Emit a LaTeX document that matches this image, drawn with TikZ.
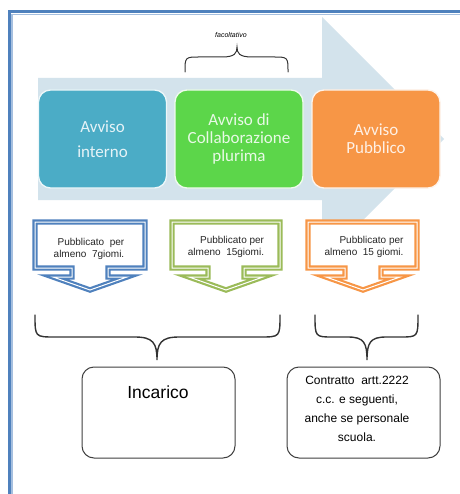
\documentclass[tikz,border=0pt]{standalone}
\usepackage{fontspec}
\setmainfont{Liberation Sans}
\newfontfamily\calib{Carlito}
\definecolor{arrowfill}{HTML}{D3E3EC}
\definecolor{bluebox}{HTML}{4BACC6}
\definecolor{greenbox}{HTML}{5CD64A}
\definecolor{orangebox}{HTML}{F79646}
\definecolor{cblue}{HTML}{4F81BD}
\definecolor{cgreen}{HTML}{9BBB59}
\definecolor{corange}{HTML}{F79646}
\definecolor{framedark}{HTML}{4F81BD}
\definecolor{framelight}{HTML}{A5BFDF}
\definecolor{brace}{HTML}{333333}
\tikzset{
  stagebox/.style={rounded corners=12pt, draw=white!90!#1, line width=1.3pt, fill=#1,
    minimum width=128pt, minimum height=98pt, inner sep=0pt, align=center,
    text=white!86!#1, font=\calib\fontsize{17}{18}\selectfont},
  callout/.style={fill=white, draw=#1, line width=2.2pt, double=white, double distance=1pt, line join=miter},
  calltext/.style={align=right, inner sep=0pt, text=black!85, font=\fontsize{10}{12}\selectfont},
  bracepath/.style={draw=brace, line width=1.4pt, line cap=round},
  resultbox/.style={rounded corners=12pt, draw=black!75, line width=1pt, fill=white,
    minimum width=153pt, minimum height=91pt, inner sep=0pt}
}
\begin{document}
\begin{tikzpicture}[x=1pt,y=-1pt]
\useasboundingbox (0,0) rectangle (459,494);
\fill[white] (0,0) rectangle (459,494);
% frame (cropped at right and bottom)
\draw[framedark, line width=3pt] (9,11.5) rectangle (476,512);
\draw[framelight, line width=1.5pt] (12,14.5) rectangle (473,509);
% big process arrow
\fill[arrowfill] (38,78) -- (322,78) -- (322,17) -- (444,139) -- (322,261) -- (322,200) -- (38,200) -- cycle;
% stage boxes
\node[stagebox=bluebox, font=\calib\fontsize{17}{25}\selectfont] (interno) at (102.5,139) {Avviso\\interno};
\node[stagebox=greenbox] (collab) at (239,139) {Avviso di\\Collaborazione\\plurima};
\node[stagebox=orangebox] (pubblico) at (376,139) {Avviso\\Pubblico};
% top brace
\node[font=\itshape\fontsize{7}{8}\selectfont, inner sep=0pt] (facolt) at (231,35) {facoltativo};
\coordinate (tb) at (237,47);
\draw[bracepath, line width=1pt] (185,72) .. controls (185,57) .. (200,57) -- (222,57) .. controls (235,57) and (237,53) .. (tb)
  .. controls (237,53) and (239,57) .. (252,57) -- (273,57) .. controls (288,57) .. (288,72);
% callouts
\draw[callout=cblue] (35,222) -- (145,222) -- (145,268) -- (108,268) -- (108,277) -- (127,277) -- (90,290) -- (53,277) -- (72,277) -- (72,268) -- (35,268) -- cycle;
\draw[callout=cgreen] (172,222) -- (280,222) -- (280,268) -- (244,268) -- (244,277) -- (263,277) -- (226,290) -- (189,277) -- (208,277) -- (208,268) -- (172,268) -- cycle;
\draw[callout=corange] (308,222) -- (417,222) -- (417,268) -- (381,268) -- (381,277) -- (400,277) -- (363,290) -- (326,277) -- (345,277) -- (345,268) -- (308,268) -- cycle;
\node[calltext] (t1) at (89,249) {Pubblicato\ \ per\\almeno\ \ 7giomi.};
\node[calltext] (t2) at (226,247) {Pubblicato per\\almeno\ \ 15giomi.};
\node[calltext] (t3) at (364,247) {Pubblicato per\\almeno\ \ 15 giomi.};
% lower braces
\coordinate (lb) at (157,360);
\coordinate (rb) at (367,360);
\draw[bracepath] (35,315) .. controls (35,337) .. (55,337) -- (135,337) .. controls (153,337) and (157,343) .. (lb)
  .. controls (157,343) and (161,337) .. (179,337) -- (260,337) .. controls (280,337) .. (280,315);
\draw[bracepath] (315,315) .. controls (315,337) .. (333,337) -- (348,337) .. controls (364,337) and (367,343) .. (rb)
  .. controls (367,343) and (370,337) .. (386,337) -- (400,337) .. controls (418,337) .. (418,315);
% result boxes
\node[resultbox] (incarico) at (158.5,412.5) {};
\node[font=\fontsize{17.5}{20}\selectfont, inner sep=0pt] (inctext) at (158,392) {Incarico};
\node[resultbox] (contratto) at (363.5,412.5) {};
\node[font=\fontsize{12}{19}\selectfont, align=center, inner sep=0pt] (contrtext) at (357,409) {Contratto\ \ artt.2222\\c.c. e seguenti,\\anche se personale\\scuola.};
\end{tikzpicture}
\end{document}
